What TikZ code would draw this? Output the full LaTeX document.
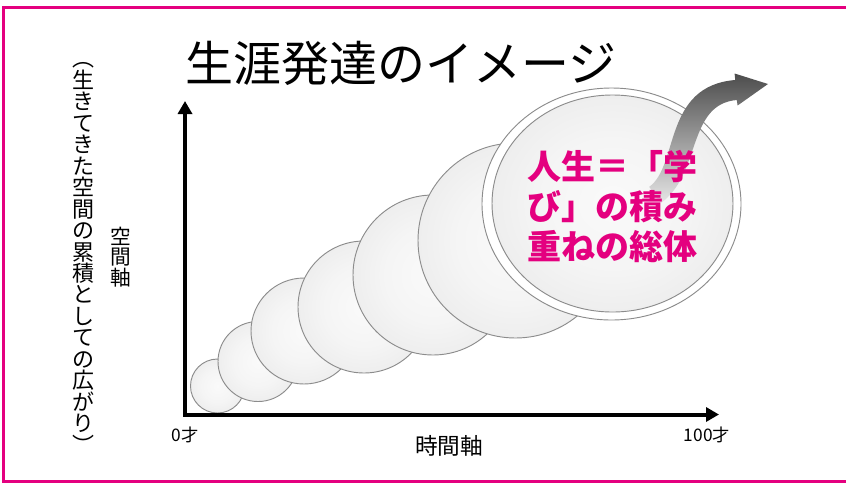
\documentclass[tikz,border=0pt]{standalone}
\usepackage{fontspec}
\newfontfamily\cjk{Noto Sans CJK JP}
\usetikzlibrary{shapes.geometric,arrows.meta}
\definecolor{mag}{HTML}{E4007F}
\definecolor{bubedge}{HTML}{8C8C8C}
\pgfdeclareradialshading{bubshade}{\pgfpoint{0bp}{0bp}}{%
  color(0bp)=(black!2); color(15bp)=(black!4); color(30bp)=(black!8);
  color(42bp)=(black!12); color(50bp)=(black!16)}
\begin{document}
\begin{tikzpicture}[x=0.75pt,y=-0.75pt,
  bub/.style={circle, draw=bubedge, line width=0.7pt, shading=bubshade,
    minimum size=#1*1.5pt, inner sep=0pt},
  ring/.style={ellipse, draw=bubedge, line width=0.7pt, inner sep=0pt},
  axisline/.style={line width=3pt, line join=miter,
    {Triangle[length=9.75pt,width=10.5pt]}-{Triangle[length=9.75pt,width=10.5pt]}},
  lab/.style={font={\cjk\fontsize{13pt}{15pt}\selectfont}, inner sep=0pt},
  axlab/.style={font={\cjk\fontsize{17pt}{20pt}\selectfont}, inner sep=0pt},
  vtext/.style={align=center, inner sep=0pt},
  frame/.style={draw=mag, line width=2.25pt}
]
\useasboundingbox (0,0) rectangle (846,483);
\draw[frame] (850,7) -- (3.5,7) -- (3.5,481) -- (850,481);

% title
\node[font={\cjk\fontsize{36pt}{40pt}\selectfont}, inner sep=0pt] (title) at (401,63) {生涯発達のイメージ};

% bubbles
\node[bub=27]   (b1) at (217.5,386) {};
\node[bub=40]   (b2) at (258,361.5) {};
\node[bub=53]   (b3) at (304,331) {};
\node[bub=66]   (b4) at (364,307) {};
\node[bub=80]   (b5) at (433,275) {};
\node[bub=97.5] (b6) at (515.5,240.5) {};
\node[ring, fill=white, minimum width=194.25pt, minimum height=174pt] (b7o) at (611.5,204) {};
\node[ring, shading=bubshade,
      minimum width=180.75pt, minimum height=162.75pt] (b7) at (612.5,203.5) {};

% curved arrow
\path[shading=axis, top color=black!70, bottom color=black!10]
  (649.2,186.9) .. controls (678.9,165.7) and (663.0,85.9) .. (735.2,80.0)
  -- (734.6,73.5) -- (768,84) -- (737.6,105.5) -- (736.8,100.0)
  .. controls (687.0,104.1) and (701.1,174.4) .. (660.8,203.1) -- cycle;

% main text
\node[font={\cjk\bfseries\fontsize{25.5pt}{30pt}\selectfont}, text=mag, align=left, inner sep=0pt]
  (msg) at (612,206) {人生＝「学\\び」の積み\\重ねの総体};

% axes
\coordinate (ytip) at (185,101);
\coordinate (xtip) at (719,414.5);
\draw[axisline] (ytip) |- (xtip);

\node[lab] (l0) at (185,435) {0才};
\node[lab] (l100) at (707,435) {100才};
\node[axlab] (tx) at (449,446) {時間軸};

\node[vtext, font={\cjk\fontsize{15.5pt}{15.2pt}\selectfont}] (sp) at (121,257) {空\\間\\軸};
\node[vtext, font={\cjk\fontsize{16.5pt}{16.1pt}\selectfont}] (spx) at (83,258)
 {︵\\生\\き\\て\\き\\た\\空\\間\\の\\累\\積\\と\\し\\て\\の\\広\\が\\り\\︶};
\end{tikzpicture}
\end{document}
